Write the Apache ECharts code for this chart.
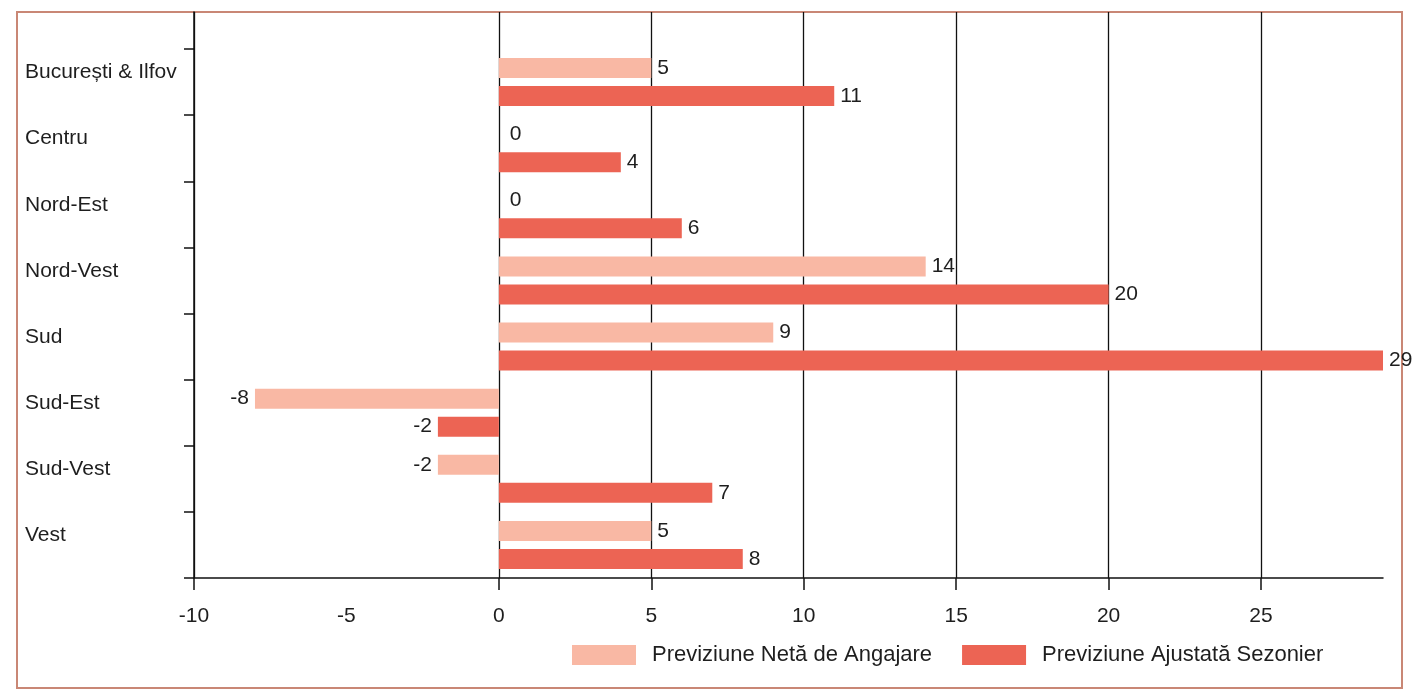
<!DOCTYPE html>
<html>
<head>
<meta charset="utf-8">
<script src="https://cdn.jsdelivr.net/npm/echarts@6/dist/echarts.min.js"></script>
<style>html,body{margin:0;padding:0;background:#fff;}#c{width:1416px;height:700px;}</style>
</head>
<body>
<div id="c"></div>
<script>
const categories = ['București & Ilfov', 'Centru', 'Nord-Est', 'Nord-Vest', 'Sud', 'Sud-Est', 'Sud-Vest', 'Vest'];
const seriesNames = ['Previziune Netă de Angajare', 'Previziune Ajustată Sezonier'];
const netValues = [5, 0, 0, 14, 9, -8, -2, 5];
const adjValues = [11, 4, 6, 20, 29, -2, 7, 8];
const xTickLabels = [-10, -5, 0, 5, 10, 15, 20, 25];
const xGridValues = [-10, 0, 5, 10, 15, 20, 25];

const FONT = 'Liberation Sans';
const INK = '#1e1e1e';
const LINE = { color: '#111', width: 1.5 };

function toItems(arr) {
  return arr.map(v => ({
    value: v,
    label: { position: v < 0 ? 'left' : 'right', distance: v === 0 ? 11 : 6 }
  }));
}

const chart = echarts.init(document.getElementById('c'));
chart.setOption({
  animation: false,
  textStyle: { fontFamily: FONT },
  graphic: [{
    type: 'rect', silent: true, z: -1,
    shape: { x: 17, y: 12, width: 1385, height: 676 },
    style: { fill: 'none', stroke: '#c98775', lineWidth: 2 }
  }],
  grid: [
    { left: 194, right: 33, top: 49, bottom: 122 },
    { left: 194, right: 33, top: 12, height: 37 }
  ],
  legend: {
    left: 567, top: 639, itemWidth: 64, itemHeight: 20, itemGap: 30, icon: 'rect',
    data: seriesNames,
    textStyle: { fontSize: 22, color: INK, fontFamily: FONT, padding: [0, 0, 0, 11] }
  },
  xAxis: [{
    type: 'value', min: -10, max: 29, interval: 5,
    axisLine: { show: true, lineStyle: LINE },
    axisTick: { show: true, length: 12, customValues: xGridValues, lineStyle: LINE },
    axisLabel: { customValues: xTickLabels, margin: 28, fontSize: 21, color: INK, fontFamily: FONT },
    splitLine: { show: true, lineStyle: { color: '#111', width: 1.3 } }
  }, {
    gridIndex: 1, type: 'value', min: -10, max: 29, interval: 5,
    axisLine: { show: false },
    axisTick: { show: false, customValues: xGridValues },
    axisLabel: { show: false },
    splitLine: { show: true, lineStyle: { color: '#111', width: 1.3 } }
  }],
  yAxis: [{
    type: 'category', data: categories, inverse: true,
    axisLine: { show: true, onZero: false, lineStyle: LINE },
    axisTick: { show: true, length: 10, lineStyle: LINE },
    axisLabel: { align: 'left', verticalAlign: 'bottom', lineHeight: 19, margin: 169, fontSize: 21, color: INK, fontFamily: FONT }
  }, {
    gridIndex: 1, type: 'value', min: 0, max: 1,
    axisLine: { show: true, onZero: false, lineStyle: LINE },
    axisTick: { show: false }, axisLabel: { show: false }, splitLine: { show: false }
  }],
  series: [{
    type: 'bar', name: seriesNames[0], data: toItems(netValues),
    barWidth: 20, barGap: '40%',
    itemStyle: { color: '#f9b8a4' },
    label: { show: true, fontSize: 21, color: INK, fontFamily: FONT }
  }, {
    type: 'bar', name: seriesNames[1], data: toItems(adjValues),
    barWidth: 20, barGap: '40%',
    itemStyle: { color: '#ec6454' },
    label: { show: true, fontSize: 21, color: INK, fontFamily: FONT }
  }]
});
</script>
</body>
</html>
